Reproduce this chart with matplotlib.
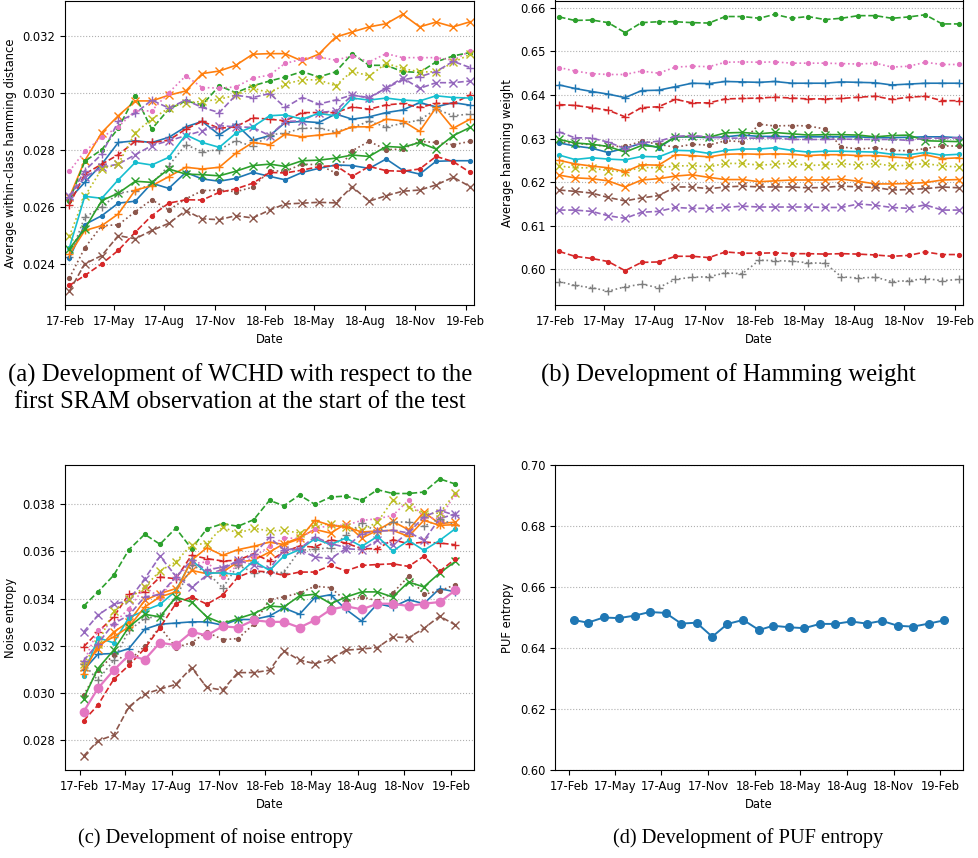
import matplotlib
matplotlib.use("Agg")
import matplotlib.pyplot as plt
import matplotlib.dates as mdates
import pandas as pd

# measurement dates (9th of each month)
dates = ["2017-02-09", "2017-03-09", "2017-04-09", "2017-05-09", "2017-06-09",
         "2017-07-09", "2017-08-09", "2017-09-09", "2017-10-09", "2017-11-09",
         "2017-12-09", "2018-01-09", "2018-02-09", "2018-03-09", "2018-04-09",
         "2018-05-09", "2018-06-09", "2018-07-09", "2018-08-09", "2018-09-09",
         "2018-10-09", "2018-11-09", "2018-12-09", "2019-01-09", "2019-02-09"]

# (a) within-class hamming distance
wchd_blue_plus = [.02628, .02686, .02750, .02826, .02832, .02826, .02844, .02881, .02900, .02853, .02891, .02834, .02850,
                  .02896, .02900, .02896, .02926, .02908, .02916, .02931, .02940, .02966, .02951, .02966, .02957]
wchd_orange_x = [.02634, .02762, .02861, .02920, .02972, .02972, .02992, .03007, .03068, .03077, .03097, .03136, .03138,
                 .03138, .03112, .03136, .03196, .03214, .03232, .03243, .03276, .03232, .03249, .03232, .03250]
wchd_green_dot = [.02622, .02760, .02801, .02876, .02990, .02873, .02943, .02972, .02958, .03025, .03001, .03025, .03042,
                  .03056, .03075, .03056, .03074, .03138, .03097, .03097, .03075, .03072, .03109, .03130, .03142]
wchd_red_plus = [.02608, .02715, .02750, .02783, .02830, .02826, .02834, .02873, .02900, .02876, .02881, .02912, .02908,
                 .02902, .02931, .02931, .02931, .02951, .02943, .02958, .02963, .02949, .02963, .02963, .02993]
wchd_purple_x = [.02639, .02704, .02739, .02750, .02783, .02815, .02832, .02850, .02867, .02885, .02881, .02879, .02850,
                 .02900, .02902, .02931, .02937, .02992, .02984, .03017, .03053, .03016, .03036, .03036, .03042]
wchd_brown_dot = [.02350, .02456, .02534, .02537, .02583, .02625, .02589, .02628, .02657, .02659, .02653, .02669, .02727,
                  .02725, .02750, .02748, .02719, .02797, .02830, .02801, .02803, .02830, .02826, .02818, .02830]
wchd_pink_dot = [.02725, .02795, .02844, .02881, .02937, .02937, .03001, .03060, .03019, .03017, .03021, .03052, .03063,
                 .03104, .03118, .03126, .03115, .03130, .03109, .03138, .03124, .03124, .03124, .03115, .03147]
wchd_gray_plus = [.02423, .02564, .02599, .02648, .02657, .02680, .02745, .02818, .02794, .02801, .02832, .02812, .02853,
                  .02859, .02876, .02876, .02864, .02879, .02900, .02881, .02893, .02905, .02943, .02920, .02926]
wchd_olive_x = [.02497, .02637, .02733, .02750, .02861, .02908, .02947, .02966, .02970, .02978, .02992, .03017, .03000,
                .03031, .03046, .03046, .03025, .03077, .03059, .03104, .03086, .03074, .03074, .03107, .03136]
wchd_cyan_dot = [.02456, .02637, .02630, .02695, .02756, .02747, .02774, .02853, .02826, .02809, .02858, .02881, .02920,
                 .02923, .02908, .02928, .02920, .02982, .02975, .02982, .02975, .02972, .02990, .02984, .02982]
wchd_blue_dot = [.02420, .02538, .02569, .02613, .02620, .02683, .02665, .02721, .02698, .02690, .02700, .02721, .02707,
                 .02695, .02721, .02735, .02747, .02745, .02735, .02768, .02729, .02715, .02760, .02762, .02762]
wchd_orange_plus = [.02433, .02517, .02534, .02575, .02659, .02674, .02706, .02739, .02733, .02739, .02788, .02826, .02818,
                    .02855, .02846, .02852, .02859, .02881, .02881, .02908, .02902, .02865, .02949, .02876, .02908]
wchd_green_x = [.02453, .02523, .02622, .02648, .02690, .02686, .02733, .02715, .02713, .02709, .02725, .02745, .02750,
                .02742, .02762, .02764, .02771, .02782, .02777, .02812, .02809, .02826, .02803, .02850, .02879]
wchd_red_dot = [.02324, .02359, .02400, .02447, .02511, .02569, .02613, .02625, .02624, .02651, .02663, .02683, .02721,
                .02719, .02729, .02741, .02745, .02707, .02742, .02727, .02725, .02733, .02777, .02759, .02721]
wchd_purple_plus = [.02634, .02727, .02785, .02900, .02928, .02975, .02947, .02975, .02949, .02931, .02992, .02984, .02998,
                    .02949, .02984, .02961, .02975, .02993, .02982, .03017, .03046, .03057, .03075, .03111, .03089]
wchd_brown_x = [.02304, .02400, .02429, .02499, .02488, .02517, .02542, .02587, .02558, .02555, .02569, .02561, .02589,
                .02610, .02613, .02616, .02614, .02671, .02620, .02639, .02655, .02659, .02677, .02704, .02671]

# (b) hamming weight
hw_blue_plus = [.6423, .6415, .6408, .6402, .6394, .6410, .6411, .6419, .6427, .6426, .6431, .6430, .6429,
                .6431, .6427, .6427, .6427, .6430, .6429, .6428, .6423, .6425, .6427, .6427, .6427]
hw_orange_x = [.6216, .6210, .6208, .6203, .6189, .6205, .6208, .6214, .6217, .6211, .6206, .6206, .6201,
               .6203, .6205, .6205, .6205, .6207, .6202, .6196, .6196, .6197, .6199, .6205, .6206]
hw_green_dot = [.6579, .6571, .6572, .6566, .6543, .6566, .6568, .6568, .6566, .6565, .6580, .6580, .6576,
                .6585, .6576, .6580, .6573, .6576, .6582, .6582, .6576, .6579, .6584, .6563, .6563]
hw_red_plus = [.6378, .6376, .6371, .6365, .6350, .6371, .6373, .6390, .6382, .6382, .6391, .6392, .6393,
               .6395, .6393, .6391, .6391, .6392, .6395, .6397, .6390, .6395, .6397, .6387, .6387]
hw_purple_x = [.6136, .6136, .6133, .6123, .6117, .6131, .6133, .6142, .6140, .6140, .6142, .6145, .6143,
               .6143, .6143, .6143, .6142, .6142, .6150, .6147, .6142, .6140, .6148, .6136, .6136]
hw_brown_dot = [.6293, .6289, .6286, .6282, .6282, .6294, .6287, .6280, .6287, .6285, .6295, .6293, .6333,
                .6329, .6330, .6329, .6322, .6281, .6276, .6279, .6273, .6272, .6277, .6283, .6283]
hw_pink_dot = [.6463, .6455, .6449, .6447, .6447, .6455, .6450, .6464, .6466, .6465, .6475, .6476, .6475,
               .6476, .6473, .6473, .6473, .6472, .6471, .6473, .6464, .6466, .6475, .6470, .6470]
hw_gray_plus = [.5972, .5963, .5958, .5950, .5960, .5966, .5958, .5977, .5982, .5983, .5992, .5990, .6021,
                .6020, .6019, .6015, .6014, .5983, .5980, .5982, .5972, .5974, .5979, .5974, .5977]
hw_olive_x = [.6237, .6233, .6233, .6226, .6224, .6234, .6233, .6237, .6238, .6235, .6243, .6243, .6239,
              .6241, .6244, .6238, .6240, .6243, .6239, .6243, .6237, .6239, .6243, .6237, .6235]
hw_cyan_dot = [.6262, .6252, .6256, .6253, .6251, .6259, .6258, .6273, .6272, .6266, .6273, .6276, .6276,
               .6279, .6273, .6269, .6271, .6271, .6270, .6269, .6264, .6263, .6268, .6262, .6264]
hw_blue_dot = [.6290, .6283, .6278, .6268, .6278, .6289, .6279, .6304, .6304, .6302, .6304, .6308, .6305,
               .6305, .6304, .6304, .6304, .6304, .6304, .6302, .6302, .6303, .6304, .6304, .6302]
hw_orange_plus = [.6250, .6242, .6237, .6233, .6224, .6240, .6239, .6263, .6261, .6258, .6264, .6265, .6264,
                  .6265, .6264, .6261, .6263, .6263, .6261, .6261, .6258, .6255, .6263, .6254, .6256]
hw_green_x = [.6298, .6290, .6287, .6282, .6269, .6284, .6281, .6304, .6305, .6303, .6313, .6314, .6311,
              .6314, .6311, .6308, .6309, .6309, .6308, .6304, .6307, .6308, .6295, .6294, .6293]
hw_red_dot = [.6041, .6030, .6025, .6018, .5997, .6016, .6017, .6030, .6030, .6027, .6040, .6037, .6037,
              .6038, .6036, .6036, .6035, .6036, .6035, .6033, .6030, .6032, .6040, .6034, .6034]
hw_purple_plus = [.6315, .6302, .6301, .6292, .6277, .6290, .6294, .6305, .6307, .6304, .6301, .6301, .6301,
                  .6302, .6298, .6298, .6298, .6299, .6298, .6298, .6298, .6296, .6301, .6301, .6302]
hw_brown_x = [.6182, .6179, .6175, .6165, .6157, .6164, .6169, .6189, .6189, .6185, .6189, .6191, .6189,
              .6189, .6189, .6187, .6188, .6191, .6189, .6188, .6182, .6183, .6185, .6189, .6187]

# (c) noise entropy
ne_blue_plus = [.03096, .03164, .03167, .03188, .03270, .03291, .03296, .03301, .03301, .03287, .03311, .03311, .03326,
                .03360, .03333, .03404, .03416, .03354, .03304, .03378, .03364, .03395, .03378, .03442, .03428]
ne_orange_x = [.03110, .03188, .03258, .03301, .03392, .03421, .03442, .03519, .03505, .03512, .03555, .03562, .03597,
               .03632, .03658, .03693, .03677, .03717, .03656, .03689, .03727, .03691, .03766, .03717, .03724]
ne_green_dot = [.03367, .03428, .03498, .03607, .03672, .03630, .03698, .03611, .03695, .03717, .03706, .03734, .03816,
                .03793, .03838, .03799, .03830, .03834, .03816, .03861, .03845, .03845, .03851, .03907, .03885]
ne_red_plus = [.03195, .03258, .03322, .03418, .03428, .03491, .03484, .03583, .03569, .03559, .03562, .03590, .03559,
               .03597, .03622, .03618, .03649, .03635, .03611, .03611, .03649, .03632, .03639, .03635, .03628]
ne_purple_x = [.03258, .03329, .03375, .03392, .03484, .03579, .03495, .03447, .03499, .03524, .03562, .03541, .03526,
               .03604, .03607, .03576, .03569, .03611, .03607, .03646, .03625, .03682, .03646, .03738, .03759]
ne_brown_dot = [.02990, .03096, .03160, .03136, .03198, .03280, .03192, .03213, .03258, .03226, .03230, .03291, .03395,
                .03407, .03423, .03452, .03446, .03390, .03407, .03390, .03423, .03494, .03418, .03432, .03459]
ne_pink_dot = [.03129, .03265, .03294, .03357, .03449, .03404, .03491, .03548, .03555, .03491, .03541, .03576, .03621,
               .03658, .03653, .03696, .03710, .03710, .03731, .03738, .03752, .03816, .03745, .03738, .03844]
ne_gray_plus = [.03124, .03054, .03138, .03265, .03315, .03326, .03399, .03541, .03512, .03445, .03541, .03510, .03512,
                .03510, .03604, .03609, .03615, .03667, .03720, .03682, .03724, .03724, .03706, .03738, .03710]
ne_olive_x = [.03124, .03209, .03347, .03399, .03449, .03517, .03555, .03628, .03633, .03703, .03676, .03698, .03686,
              .03689, .03677, .03714, .03714, .03703, .03689, .03724, .03816, .03787, .03759, .03762, .03847]
ne_cyan_dot = [.03071, .03234, .03212, .03319, .03349, .03375, .03432, .03562, .03508, .03508, .03502, .03559, .03519,
               .03579, .03607, .03653, .03629, .03656, .03621, .03663, .03601, .03646, .03604, .03646, .03696]
ne_orange_plus = [.03082, .03202, .03237, .03280, .03364, .03407, .03428, .03562, .03615, .03583, .03607, .03621, .03639,
                  .03629, .03653, .03731, .03710, .03703, .03682, .03686, .03689, .03663, .03731, .03710, .03713]
ne_green_x = [.02976, .03103, .03181, .03280, .03333, .03322, .03406, .03385, .03322, .03294, .03315, .03336, .03368,
              .03364, .03411, .03418, .03378, .03406, .03428, .03428, .03406, .03470, .03449, .03508, .03557]
ne_red_dot = [.02882, .02948, .03057, .03117, .03188, .03277, .03378, .03407, .03376, .03414, .03491, .03517, .03512,
              .03498, .03512, .03512, .03540, .03517, .03540, .03544, .03547, .03536, .03579, .03515, .03568]
ne_purple_plus = [.03136, .03209, .03294, .03329, .03407, .03417, .03491, .03562, .03520, .03534, .03555, .03587, .03659,
                  .03607, .03611, .03661, .03633, .03616, .03675, .03685, .03689, .03678, .03746, .03774, .03752]
ne_brown_x = [.02732, .02797, .02821, .02941, .02995, .03016, .03036, .03107, .03023, .03012, .03086, .03086, .03096,
              .03178, .03139, .03124, .03143, .03181, .03186, .03192, .03237, .03234, .03273, .03325, .03288]
ne_pink_big = [.02920, .03019, .03096, .03160, .03141, .03213, .03202, .03258, .03244, .03282, .03277, .03308, .03301,
               .03301, .03277, .03308, .03353, .03367, .03354, .03378, .03378, .03368, .03378, .03385, .03435]

# (d) PUF entropy
puf_entropy = [.6492, .6483, .6500, .6498, .6506, .6518, .6515, .6480, .6483, .6437, .6479, .6492, .6459,
               .6473, .6468, .6465, .6479, .6479, .6487, .6480, .6489, .6473, .6470, .6480, .6491]

# style per device: colour, linestyle, marker
styles = {
    "blue_plus": ("tab:blue", "-", "+"),
    "orange_x": ("tab:orange", "-", "x"),
    "green_dot": ("tab:green", "--", "."),
    "red_plus": ("tab:red", "--", "+"),
    "purple_x": ("tab:purple", "--", "x"),
    "brown_dot": ("tab:brown", ":", "."),
    "pink_dot": ("tab:pink", ":", "."),
    "gray_plus": ("tab:gray", ":", "+"),
    "olive_x": ("tab:olive", ":", "x"),
    "cyan_dot": ("tab:cyan", "-", "."),
    "blue_dot": ("tab:blue", "-", "."),
    "orange_plus": ("tab:orange", "-", "+"),
    "green_x": ("tab:green", "-", "x"),
    "red_dot": ("tab:red", "--", "."),
    "purple_plus": ("tab:purple", "--", "+"),
    "brown_x": ("tab:brown", "--", "x"),
}

wchd = {"blue_plus": wchd_blue_plus, "orange_x": wchd_orange_x, "green_dot": wchd_green_dot,
        "red_plus": wchd_red_plus, "purple_x": wchd_purple_x, "brown_dot": wchd_brown_dot,
        "pink_dot": wchd_pink_dot, "gray_plus": wchd_gray_plus, "olive_x": wchd_olive_x,
        "cyan_dot": wchd_cyan_dot, "blue_dot": wchd_blue_dot, "orange_plus": wchd_orange_plus,
        "green_x": wchd_green_x, "red_dot": wchd_red_dot, "purple_plus": wchd_purple_plus,
        "brown_x": wchd_brown_x}
hw = {"blue_plus": hw_blue_plus, "orange_x": hw_orange_x, "green_dot": hw_green_dot,
      "red_plus": hw_red_plus, "purple_x": hw_purple_x, "brown_dot": hw_brown_dot,
      "pink_dot": hw_pink_dot, "gray_plus": hw_gray_plus, "olive_x": hw_olive_x,
      "cyan_dot": hw_cyan_dot, "blue_dot": hw_blue_dot, "orange_plus": hw_orange_plus,
      "green_x": hw_green_x, "red_dot": hw_red_dot, "purple_plus": hw_purple_plus,
      "brown_x": hw_brown_x}
ne = {"blue_plus": ne_blue_plus, "orange_x": ne_orange_x, "green_dot": ne_green_dot,
      "red_plus": ne_red_plus, "purple_x": ne_purple_x, "brown_dot": ne_brown_dot,
      "pink_dot": ne_pink_dot, "gray_plus": ne_gray_plus, "olive_x": ne_olive_x,
      "cyan_dot": ne_cyan_dot, "orange_plus": ne_orange_plus,
      "green_x": ne_green_x, "red_dot": ne_red_dot, "purple_plus": ne_purple_plus,
      "brown_x": ne_brown_x}

x = pd.to_datetime(dates)

plt.rcParams['font.size'] = 8.3
fig = plt.figure(figsize=(9.79, 8.58), dpi=100)
W, H = 979, 858


def add_ax(x0, y0, x1, y1):
    return fig.add_axes([x0 / W, 1 - y1 / H, (x1 - x0) / W, (y1 - y0) / H])


ax_a = add_ax(65, 0.5, 474, 305)
ax_b = add_ax(555, 0.5, 963, 305)
ax_c = add_ax(65, 465, 474, 770)
ax_d = add_ax(555, 465, 963, 770)


def draw(ax, data):
    for key, vals in data.items():
        c, ls, m = styles[key]
        ax.plot(x, vals, color=c, linestyle=ls, marker=m, lw=1.2, ms=5.5)


draw(ax_a, wchd)
draw(ax_b, hw)
draw(ax_c, ne)
ax_c.plot(x, ne_pink_big, color="tab:pink", linestyle="-", marker="o", lw=1.6, ms=6)
ax_d.plot(x, puf_entropy, color="tab:blue", linestyle="-", marker="o", lw=1.4, ms=5.5)

# (a) and (b) are clipped tightly around the dates
tight_lim = (pd.Timestamp("2017-02-01"), pd.Timestamp("2019-02-16"))
ax_a.set_xlim(tight_lim)
ax_b.set_xlim(tight_lim)
ax_d.set_ylim(0.60, 0.70)

ax_a.set_ylabel("Average within-class hamming distance")
ax_b.set_ylabel("Average hamming weight")
ax_c.set_ylabel("Noise entropy")
ax_d.set_ylabel("PUF entropy")

for ax in (ax_a, ax_b, ax_c, ax_d):
    ax.xaxis.set_major_locator(mdates.MonthLocator(bymonth=[2, 5, 8, 11]))
    ax.xaxis.set_major_formatter(mdates.DateFormatter("%y-%b"))
    ax.set_xlabel("Date")
    ax.grid(axis="y", linestyle=":", color="#b0b0b0", lw=0.8)

cap = dict(family="Liberation Serif", fontsize=17.8, ha="center", va="center")
fig.text(240 / W, 1 - 375 / H, "(a) Development of WCHD with respect to the", **cap)
fig.text(240 / W, 1 - 402 / H, "first SRAM observation at the start of the test", **cap)
fig.text(728 / W, 1 - 375 / H, "(b) Development of Hamming weight", **cap)
cap_low = dict(cap, fontsize=14.7)
fig.text(215 / W, 1 - 838 / H, "(c) Development of noise entropy", **cap_low)
fig.text(748 / W, 1 - 838 / H, "(d) Development of PUF entropy", **cap_low)

fig.savefig("out.png", dpi=100)
